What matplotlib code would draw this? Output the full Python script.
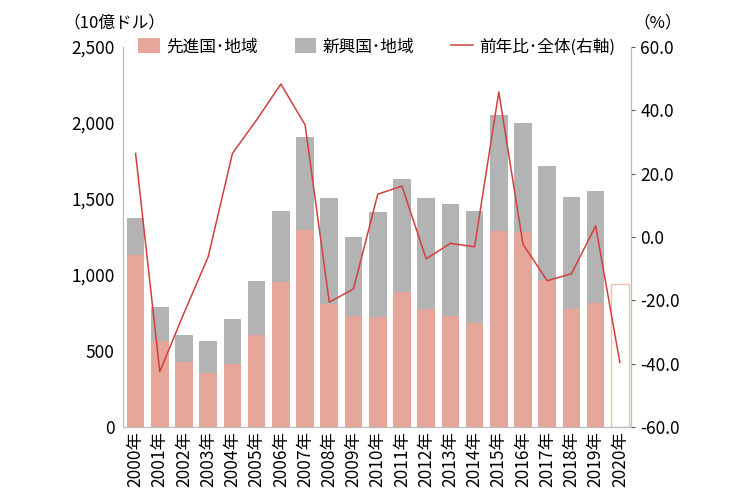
import matplotlib
matplotlib.use('Agg')
import matplotlib.pyplot as plt
from matplotlib.ticker import FuncFormatter

# 日本語フォント
plt.rcParams['font.family'] = ['Noto Sans CJK JP', 'DejaVu Sans']

# データ（10億ドル、前年比%）
years = [str(y) + '年' for y in range(2000, 2021)]
advanced = [1134, 564, 430, 353, 417, 603, 956, 1298, 809, 730, 724,
            886, 776, 732, 684, 1289, 1283, 965, 776, 816]
total = [1373, 787, 603, 566, 708, 963, 1419, 1908, 1504, 1250, 1412,
         1629, 1509, 1469, 1421, 2055, 1998, 1715, 1511, 1555]
emerging = [t - a for t, a in zip(total, advanced)]
total_2020 = 939
yoy = [26.4, -42.5, -24.0, -6.2, 26.4, 37.0, 48.3, 35.4, -20.6, -16.4, 13.5,
       16.1, -6.9, -2.0, -3.1, 45.8, -2.3, -13.8, -11.6, 3.5, -39.6]

pink = '#E6A699'
gray = '#B3B3B3'
red = '#D2403D'
spine = '#BBBBBB'

fig = plt.figure(figsize=(7.5, 5), dpi=100)
ax = fig.add_axes([0.164, 0.146, 0.677, 0.76])
ax2 = ax.twinx()

x = list(range(len(years)))
w = 0.73
ax.bar(x[:20], advanced, width=w, color=pink, label='先進国･地域')
ax.bar(x[:20], emerging, width=w, bottom=advanced, color=gray, label='新興国･地域')
ax.bar(x[20], total_2020, width=w, facecolor='white', edgecolor='#F2BFB4', linewidth=1)
ln, = ax2.plot(x, yoy, color=red, linewidth=1.1, label='前年比･全体(右軸)')

ax.set_xlim(-0.52, 20.45)
ax.set_ylim(0, 2500)
ax.set_yticks(range(0, 2501, 500))
ax.yaxis.set_major_formatter(FuncFormatter(lambda v, p: '{:,.0f}'.format(v)))
ax2.set_ylim(-60, 60)
ax2.set_yticks(range(-60, 61, 20))
ax2.yaxis.set_major_formatter(FuncFormatter(lambda v, p: '{:.1f}'.format(v)))

ax.set_xticks(x)
ax.set_xticklabels(years, rotation=90, fontsize=12.5)
ax.tick_params(axis='x', length=0, pad=3)
ax.tick_params(axis='y', length=0, labelsize=12.5, pad=6)
ax2.tick_params(axis='y', length=3, color='#555555', labelsize=12.5, pad=4)

for a in (ax, ax2):
    a.spines['top'].set_visible(False)
    for s in ('left', 'right', 'bottom'):
        a.spines[s].set_color(spine)

fig.text(0.085, 0.955, '（10億ドル）', fontsize=12, ha='left', va='center')
fig.text(0.845, 0.955, '（%）', fontsize=12, ha='left', va='center')

h1, l1 = ax.get_legend_handles_labels()
ax2.legend(h1 + [ln], l1 + [ln.get_label()], loc='center', bbox_to_anchor=(0.5, 1.0),
           ncol=3, frameon=False, fontsize=12, handlelength=1.3, handleheight=1.0,
           columnspacing=2.2, handletextpad=0.4)

fig.savefig('out.png', dpi=100)
